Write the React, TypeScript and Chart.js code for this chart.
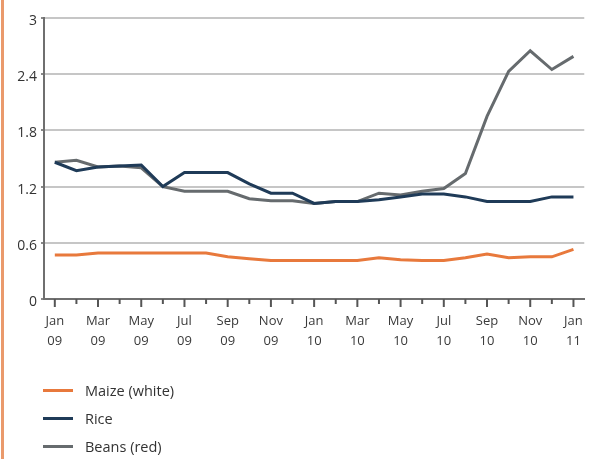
import React, { useEffect, useRef } from "react";
import { Chart, registerables } from "chart.js";

Chart.register(...registerables);

const months = [
  ["Jan", "09"], ["Feb", "09"], ["Mar", "09"], ["Apr", "09"], ["May", "09"], ["Jun", "09"],
  ["Jul", "09"], ["Aug", "09"], ["Sep", "09"], ["Oct", "09"], ["Nov", "09"], ["Dec", "09"],
  ["Jan", "10"], ["Feb", "10"], ["Mar", "10"], ["Apr", "10"], ["May", "10"], ["Jun", "10"],
  ["Jul", "10"], ["Aug", "10"], ["Sep", "10"], ["Oct", "10"], ["Nov", "10"], ["Dec", "10"],
  ["Jan", "11"],
];

const maize = [0.47, 0.47, 0.49, 0.49, 0.49, 0.49, 0.49, 0.49, 0.45, 0.43, 0.41, 0.41, 0.41, 0.41, 0.41, 0.44, 0.42, 0.41, 0.41, 0.44, 0.48, 0.44, 0.45, 0.45, 0.53];
const rice = [1.46, 1.37, 1.41, 1.42, 1.43, 1.2, 1.35, 1.35, 1.35, 1.23, 1.13, 1.13, 1.02, 1.04, 1.04, 1.06, 1.09, 1.12, 1.12, 1.09, 1.04, 1.04, 1.04, 1.09, 1.09];
const beans = [1.46, 1.48, 1.41, 1.42, 1.4, 1.2, 1.15, 1.15, 1.15, 1.07, 1.05, 1.05, 1.02, 1.04, 1.04, 1.13, 1.11, 1.15, 1.18, 1.34, 1.95, 2.43, 2.65, 2.45, 2.59];

const yTicks = [0, 0.6, 1.2, 1.8, 2.4, 3];

const MAIZE_COLOR = "#e8793c";
const RICE_COLOR = "#1f3b58";
const BEANS_COLOR = "#666b6e";

const tickPlugin = {
  id: "xTicks",
  afterDraw(chart: any) {
    const ctx = chart.ctx;
    const xs = chart.scales.x;
    const bottom = chart.chartArea.bottom;
    ctx.save();
    ctx.strokeStyle = "#555";
    ctx.lineWidth = 2;
    for (let i = 0; i < months.length; i++) {
      const x = xs.getPixelForValue(i);
      const len = i % 2 === 0 ? 8 : 5;
      ctx.beginPath();
      ctx.moveTo(x, bottom);
      ctx.lineTo(x, bottom + len);
      ctx.stroke();
    }
    ctx.restore();
  },
};

export default function App() {
  const ref = useRef<HTMLCanvasElement>(null);
  useEffect(() => {
    if (!ref.current) return;
    const chart = new Chart(ref.current, {
      type: "line",
      data: {
        labels: months.map((m) => m.join(" ")),
        datasets: [
          { label: "Maize (white)", data: maize, borderColor: MAIZE_COLOR, backgroundColor: MAIZE_COLOR, borderWidth: 3, pointRadius: 0, tension: 0 },
          { label: "Rice", data: rice, borderColor: RICE_COLOR, backgroundColor: RICE_COLOR, borderWidth: 3, pointRadius: 0, tension: 0 },
          { label: "Beans (red)", data: beans, borderColor: BEANS_COLOR, backgroundColor: BEANS_COLOR, borderWidth: 3, pointRadius: 0, tension: 0 },
        ],
      },
      options: {
        animation: false,
        responsive: false,
        maintainAspectRatio: false,
        layout: { padding: { top: 18, right: 10, left: 0, bottom: 0 } },
        plugins: { legend: { display: false }, tooltip: { enabled: false } },
        scales: {
          x: {
            type: "category",
            offset: true,
            grid: { display: true, offset: false, drawOnChartArea: false, drawTicks: false, color: "#555" },
            border: { display: true, color: "#6f6f6f", width: 2 },
            ticks: {
              autoSkip: false,
              maxRotation: 0,
              minRotation: 0,
              padding: 12,
              color: "#3a3a3a",
              font: { family: "Open Sans", size: 13, lineHeight: 1.55 },
              callback: (_v: any, i: number) => (i % 2 === 0 ? months[i] : ""),
            },
            afterFit: (s: any) => { s.height = 160; },
          },
          y: {
            min: 0,
            max: 3,
            afterBuildTicks: (s: any) => { s.ticks = yTicks.map((v) => ({ value: v })); },
            grid: { color: "#c6c6c6", lineWidth: 2, drawTicks: true, tickLength: 3, tickColor: "#888" },
            border: { display: true, color: "#6f6f6f", width: 2 },
            ticks: {
              padding: 4,
              labelOffset: 3,
              color: "#333",
              font: { family: "Open Sans", size: 14 },
              callback: (v: any) => String(Number(Number(v).toFixed(1))),
            },
            afterFit: (s: any) => { s.width = 44; },
          },
        },
      },
      plugins: [tickPlugin],
    });
    return () => chart.destroy();
  }, []);

  const legend = [
    { label: "Maize (white)", color: MAIZE_COLOR },
    { label: "Rice", color: RICE_COLOR },
    { label: "Beans (red)", color: BEANS_COLOR },
  ];

  return (
    <div style={{ position: "fixed", left: 0, top: 0, width: 595, height: 459, background: "#fff", overflow: "hidden" }}>
      <div style={{ position: "absolute", left: 1, top: 0, width: 3, height: 459, background: "#ea9a6c" }} />
      <canvas ref={ref} width={595} height={459} style={{ position: "absolute", left: 0, top: 0 }} />
      {legend.map((l, i) => (
        <div key={l.label} style={{ position: "absolute", left: 43, top: 380 + i * 28, height: 20, display: "flex", alignItems: "center", fontFamily: "Open Sans", fontSize: 14.5, color: "#333" }}>
          <span style={{ display: "inline-block", width: 30, height: 3, background: l.color, marginRight: 12 }} />
          {l.label}
        </div>
      ))}
    </div>
  );
}
